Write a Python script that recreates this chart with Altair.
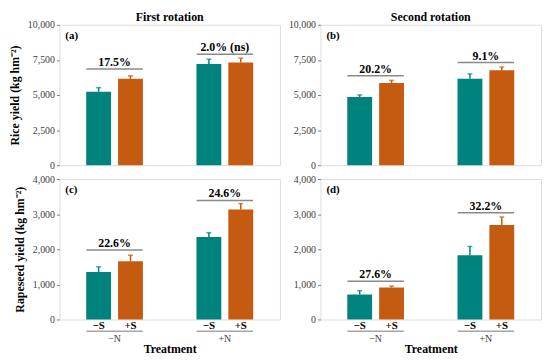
import altair as alt
import pandas as pd

# ---- data ----
n_groups = ["−N", "−N", "+N", "+N"]
s_levels = ["−S", "+S", "−S", "+S"]

rice_first = [5230, 6150, 7200, 7320]
rice_first_err = [290, 210, 350, 300]
rice_second = [4860, 5850, 6160, 6760]
rice_second_err = [140, 190, 340, 230]
rape_first = [1350, 1660, 2350, 3130]
rape_first_err = [150, 170, 120, 170]
rape_second = [710, 910, 1830, 2690]
rape_second_err = [110, 40, 250, 230]

bracket_groups = ["−N", "+N"]
pct_a = ["17.5%", "2.0% (ns)"]
pct_a_y = [6850, 7900]
pct_b = ["20.2%", "9.1%"]
pct_b_y = [6370, 7310]
pct_c = ["22.6%", "24.6%"]
pct_c_y = [1980, 3390]
pct_d = ["27.6%", "32.2%"]
pct_d_y = [1090, 3040]

TEAL = "#00827f"
ORANGE = "#c55a11"
SERIF = "Liberation Serif"
W, H = 223, 142


def panel(vals, errs, pcts, pct_y, letter, ymax, ystep, ytitle, title, show_x):
    df = pd.DataFrame({"N": n_groups, "S": s_levels, "v": vals,
                       "top": [v + e for v, e in zip(vals, errs)]})
    bdf = pd.DataFrame({"N": bracket_groups, "lab": pcts, "ly": pct_y})

    if show_x:
        xaxis = alt.Axis(title="Treatment", labelPadding=14, ticks=False, domain=False,
                         labelAngle=0, labelFont=SERIF, labelFontSize=10, labelColor="#404040",
                         titleFont=SERIF, titleFontSize=12, titleFontWeight="bold",
                         titleColor="#000000", titlePadding=0)
    else:
        xaxis = None
    xsc = alt.Scale(domain=bracket_groups, paddingInner=0, paddingOuter=0)
    x = alt.X("N:N", scale=xsc, axis=xaxis)
    xo = alt.XOffset("S:N", scale=alt.Scale(domain=["−S", "+S"], paddingInner=0.22, paddingOuter=0.84))
    common = dict(values=list(range(0, ymax + 1, ystep)), format=",.0f",
                  grid=False, domain=False, tickSize=3, tickColor="#808080",
                  labelFont=SERIF, labelFontSize=10, labelColor="#404040")
    if ytitle:
        yaxis = alt.Axis(title=ytitle, titleFont=SERIF, titleFontSize=12, titleFontWeight="bold",
                         titleColor="#000000", titlePadding=6, **common)
    else:
        yaxis = alt.Axis(title=None, **common)
    ysc = alt.Scale(domain=[0, ymax], nice=False)
    color = alt.Color("S:N", scale=alt.Scale(domain=["−S", "+S"], range=[TEAL, ORANGE]), legend=None)

    base = alt.Chart(df)
    bars = base.mark_bar().encode(x=x, xOffset=xo, y=alt.Y("v:Q", scale=ysc, axis=yaxis), color=color)
    err = base.mark_rule(strokeWidth=1.5).encode(
        x=x, xOffset=xo, y=alt.Y("v:Q", scale=ysc, axis=yaxis), y2="top:Q", color=color)
    cap = base.mark_tick(size=5, thickness=1.5, orient="horizontal").encode(
        x=x, xOffset=xo, y=alt.Y("top:Q", scale=ysc, axis=yaxis), color=color)

    bline = alt.Chart(bdf).mark_tick(size=57, thickness=1.5, color="#595959", orient="horizontal").encode(
        x=x, y=alt.Y("ly:Q", scale=ysc, axis=yaxis))
    btext = alt.Chart(bdf).mark_text(font=SERIF, fontSize=12, fontWeight="bold", dy=-7,
                                     color="#000000").encode(
        x=x, y=alt.Y("ly:Q", scale=ysc, axis=yaxis), text="lab:N")
    ltext = alt.Chart(pd.DataFrame({"t": [letter]})).mark_text(
        font=SERIF, fontSize=11, fontWeight="bold", align="left", baseline="middle",
        color="#000000").encode(text="t:N", x=alt.value(6), y=alt.value(11))

    layers = [bars, err, cap, bline, btext, ltext]
    if title:
        ttext = alt.Chart(pd.DataFrame({"t": [title]})).mark_text(
            font=SERIF, fontSize=12, fontWeight="bold", align="center", baseline="middle",
            color="#000000").encode(text="t:N", x=alt.value(W / 2), y=alt.value(-8))
        layers.append(ttext)
    if show_x:
        slab = base.mark_text(font=SERIF, fontSize=11, fontWeight="bold", baseline="middle",
                              color="#000000").encode(x=x, xOffset=xo, y=alt.value(H + 7), text="S:N")
        sline = alt.Chart(bdf).mark_tick(size=57, thickness=1.5, color="#808080",
                                          orient="horizontal").encode(x=x, y=alt.value(H + 12))
        layers += [slab, sline]

    return alt.layer(*layers).properties(width=W, height=H)


a = panel(rice_first, rice_first_err, pct_a, pct_a_y, "(a)", 10000, 2500,
          "Rice yield (kg hm⁻²)", "First rotation", False)
b = panel(rice_second, rice_second_err, pct_b, pct_b_y, "(b)", 10000, 2500,
          None, "Second rotation", False)
c = panel(rape_first, rape_first_err, pct_c, pct_c_y, "(c)", 4000, 1000,
          "Rapeseed yield (kg hm⁻²)", None, True)
d = panel(rape_second, rape_second_err, pct_d, pct_d_y, "(d)", 4000, 1000,
          None, None, True)

chart = alt.concat(a, b, c, d, columns=2, bounds="flush",
                   spacing={"row": 14, "column": 41}).configure_view(
    fill="#f2f2f2", stroke="#7f7f7f", strokeWidth=1
).configure(background="#ffffff", padding=0)

chart.save("out.html", embed_options={"renderer": "svg", "actions": False})
